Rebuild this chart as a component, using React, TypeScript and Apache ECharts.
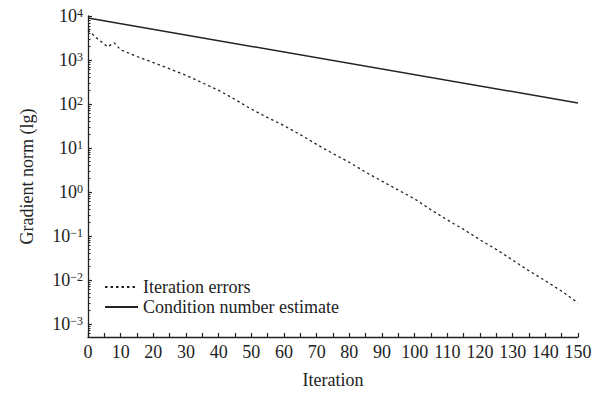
import React, { useEffect, useRef } from "react";
import * as echarts from "echarts";

const errorIterations = [0, 3, 6, 8, 10, 15, 20, 25, 30, 35, 40, 45, 50, 55, 60, 65, 70, 75, 80, 85, 90, 95, 100, 105, 110, 115, 120, 125, 130, 135, 140, 145, 150];
const iterationErrors = [4800, 3000, 2000, 2450, 1700, 1200, 870, 630, 447, 302, 204, 127, 76, 49, 32, 20, 12, 7.4, 4.7, 2.8, 1.75, 1.1, 0.69, 0.39, 0.23, 0.14, 0.081, 0.049, 0.028, 0.016, 0.0095, 0.0055, 0.003];
const conditionIterations = [0, 150];
const conditionEstimate = [9000, 105];
const yMajorTicks = [0.001, 0.01, 0.1, 1, 10, 100, 1000, 10000];
const yMinorTicks: number[] = [];
[0.0001, 0.001, 0.01, 0.1, 1, 10, 100, 1000].forEach((d) => {
  for (let k = 2; k <= 9; k++) {
    const v = Number((d * k).toPrecision(3));
    if (v >= 0.0005 && v <= 10000) yMinorTicks.push(v);
  }
});

const FONT = "Liberation Serif";
const INK = "#222";

export default function App() {
  const ref = useRef<HTMLDivElement>(null);
  useEffect(() => {
    if (!ref.current) return;
    const chart = echarts.init(ref.current, undefined, { renderer: "svg" });
    chart.setOption({
      animation: false,
      backgroundColor: "#fff",
      grid: { left: 88, right: 25, top: 16, bottom: 63 },
      legend: {
        orient: "vertical",
        left: 99,
        top: 273,
        itemWidth: 33,
        itemHeight: 12,
        itemGap: 2,
        itemStyle: { opacity: 0 },
        textStyle: { fontFamily: FONT, fontSize: 18, color: INK },
        data: ["Iteration errors", "Condition number estimate"],
      },
      xAxis: {
        type: "value",
        min: 0,
        max: 150,
        interval: 10,
        name: "Iteration",
        nameLocation: "middle",
        nameGap: 34,
        nameTextStyle: { fontFamily: FONT, fontSize: 18, color: INK },
        axisLine: { lineStyle: { color: INK, width: 1.3 } },
        axisTick: { inside: true, length: 4, lineStyle: { color: INK, width: 1.2 } },
        minorTick: { show: true, splitNumber: 2, length: 4, lineStyle: { color: INK, width: 1.2 } },
        axisLabel: { fontFamily: FONT, fontSize: 18, color: INK, margin: 6 },
        splitLine: { show: false },
      },
      yAxis: [
        {
          type: "log",
          logBase: 10,
          min: 0.0005,
          max: 10000,
          position: "left",
          name: "Gradient norm (lg)",
          nameLocation: "middle",
          nameGap: 52,
          nameTextStyle: { fontFamily: FONT, fontSize: 18, color: INK },
          axisLine: { show: true, lineStyle: { color: INK, width: 1.3 } },
          axisTick: { show: true, inside: true, length: 4, customValues: yMajorTicks, lineStyle: { color: INK, width: 1.2 } },
          axisLabel: {
            customValues: yMajorTicks,
            margin: 5,
            formatter: (v: number) => {
              const e = Math.round(Math.log10(v));
              return `{b|10}{s|${e < 0 ? "\u2212" + -e : e}}`;
            },
            rich: {
              b: { fontFamily: FONT, fontSize: 18, color: INK },
              s: { fontFamily: FONT, fontSize: 12, color: INK, verticalAlign: "top" },
            },
          },
          splitLine: { show: false },
        },
        {
          type: "log",
          logBase: 10,
          min: 0.0005,
          max: 10000,
          position: "left",
          axisLine: { show: false },
          axisTick: { show: true, inside: true, length: 2.5, customValues: yMinorTicks, lineStyle: { color: INK, width: 1 } },
          axisLabel: { show: false },
          splitLine: { show: false },
        },
      ],
      series: [
        {
          name: "Iteration errors",
          type: "line",
          yAxisIndex: 0,
          symbol: "none",
          data: errorIterations.map((x, i) => [x, iterationErrors[i]]),
          lineStyle: { color: INK, width: 1.3, type: [2.5, 3] },
          itemStyle: { color: INK },
        },
        {
          name: "Condition number estimate",
          type: "line",
          yAxisIndex: 0,
          symbol: "none",
          data: conditionIterations.map((x, i) => [x, conditionEstimate[i]]),
          lineStyle: { color: INK, width: 1.5, type: "solid" },
          itemStyle: { color: INK },
        },
      ],
    });
    return () => chart.dispose();
  }, []);
  return <div ref={ref} style={{ width: 603, height: 400, position: "absolute", left: 0, top: 0 }} />;
}
